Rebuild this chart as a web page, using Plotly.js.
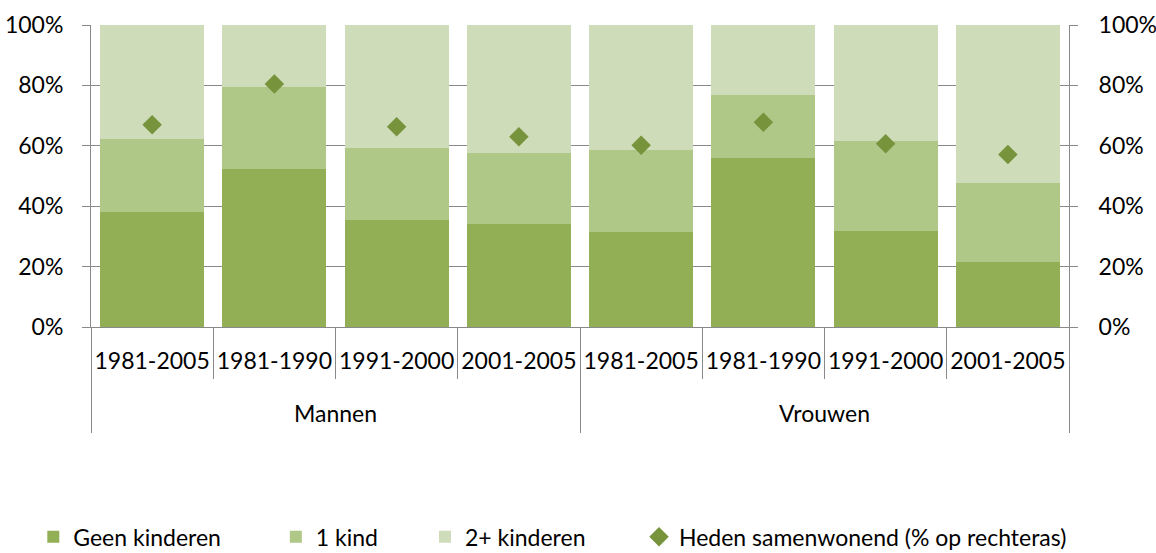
<!DOCTYPE html>
<html>
<head>
<meta charset="utf-8">
<script src="https://cdn.plot.ly/plotly-3.0.1.min.js"></script>
<style>html,body{margin:0;padding:0;background:#fff;overflow:hidden;}#chart{width:1156px;height:580px;}</style>
</head>
<body>
<div id="chart"></div>
<script>
const groups = ["Mannen","Mannen","Mannen","Mannen","Vrouwen","Vrouwen","Vrouwen","Vrouwen"];
const periods = ["1981-2005","1981-1990","1991-2000","2001-2005","1981-2005","1981-1990","1991-2000","2001-2005"];
const geenKinderen = [38.1, 52.3, 35.5, 34.1, 31.6, 56.1, 31.9, 21.5];
const eenKind = [24.2, 27.3, 23.8, 23.6, 27.0, 20.7, 29.7, 26.1];
const tweePlusKinderen = [37.7, 20.4, 40.7, 42.3, 41.4, 23.2, 38.4, 52.4];
const samenwonend = [67.0, 80.5, 66.3, 63.0, 60.2, 67.8, 60.7, 57.1];

// category positions derived from the arrays
const idx = periods.map((_, i) => i);
const boundaries = [-0.5].concat(idx.map(i => i + 0.5));
const groupNames = [...new Set(groups)];
const groupCenters = groupNames.map(g => {
  const ii = idx.filter(i => groups[i] === g);
  return (ii[0] + ii[ii.length - 1]) / 2;
});
const groupEdges = [-0.5].concat(groupNames.map(g => {
  const ii = idx.filter(i => groups[i] === g);
  return ii[ii.length - 1] + 0.5;
}));
const xRange = [-0.5, periods.length - 0.5];

const gray = "#898989";
const fam = "Lato, 'Open Sans', sans-serif";
const font = {family: fam, size: 23, color: "#000"};
const toFrac = a => a.map(v => v / 100);

const traces = [
  {type: "bar", name: "Geen kinderen", x: idx, y: toFrac(geenKinderen), marker: {color: "#93AF56"}, legend: "legend"},
  {type: "bar", name: "1 kind", x: idx, y: toFrac(eenKind), marker: {color: "#AFC787"}, legend: "legend2"},
  {type: "bar", name: "2+ kinderen", x: idx, y: toFrac(tweePlusKinderen), marker: {color: "#CFDCBA"}, legend: "legend3"},
  {type: "scatter", mode: "markers", name: "Heden samenwonend (% op rechteras)", x: idx, y: toFrac(samenwonend),
   xaxis: "x2", yaxis: "y2",
   marker: {symbol: "diamond", size: 15, color: "#77933C"}, legend: "legend4"}
];

const legBase = {orientation: "h", yanchor: "middle", y: -0.695, xanchor: "left", font: font, bgcolor: "rgba(0,0,0,0)"};

const layout = {
  width: 1156, height: 580,
  margin: {l: 91, r: 87, t: 25, b: 253},
  barmode: "stack", bargap: 0.15,
  paper_bgcolor: "#fff", plot_bgcolor: "#fff",
  font: font,
  showlegend: true,
  legend: Object.assign({}, legBase, {x: -0.059}),
  legend2: Object.assign({}, legBase, {x: 0.189}),
  legend3: Object.assign({}, legBase, {x: 0.3415}),
  legend4: Object.assign({}, legBase, {x: 0.5603}),
  xaxis: {range: xRange, tickmode: "array", tickvals: idx, ticktext: periods, showline: true, linecolor: gray, linewidth: 1,
          ticks: "outside", ticklen: 13, tickcolor: "rgba(0,0,0,0)", showgrid: false, zeroline: false, tickfont: font,
          minor: {tickmode: "array", tickvals: boundaries, ticks: "outside", ticklen: 51, tickcolor: gray, tickwidth: 1, showgrid: false}},
  xaxis2: {range: xRange, overlaying: "x", anchor: "y2", side: "bottom", tickmode: "array", tickvals: groupCenters, ticktext: groupNames,
           ticks: "outside", ticklen: 66, tickcolor: "rgba(0,0,0,0)", showgrid: false, zeroline: false, showline: false, tickfont: font,
           minor: {tickmode: "array", tickvals: groupEdges, ticks: "outside", ticklen: 105, tickcolor: gray, tickwidth: 1, showgrid: false}},
  yaxis: {range: [0, 1], tickvals: [0, 0.2, 0.4, 0.6, 0.8, 1], tickformat: ".0%",
          showline: true, linecolor: gray, ticks: "outside", ticklen: 8, tickcolor: gray, ticklabelstandoff: 14,
          showgrid: true, gridcolor: gray, gridwidth: 1, zeroline: false, tickfont: font},
  yaxis2: {range: [0, 1], tickvals: [0, 0.2, 0.4, 0.6, 0.8, 1], tickformat: ".0%", overlaying: "y", side: "right", anchor: "x2",
           showline: true, linecolor: gray, ticks: "outside", ticklen: 8, tickcolor: gray, ticklabelstandoff: 16,
           showgrid: false, zeroline: false, tickfont: font}
};

Plotly.newPlot("chart", traces, layout, {displayModeBar: false, staticPlot: true});
</script>
</body>
</html>
